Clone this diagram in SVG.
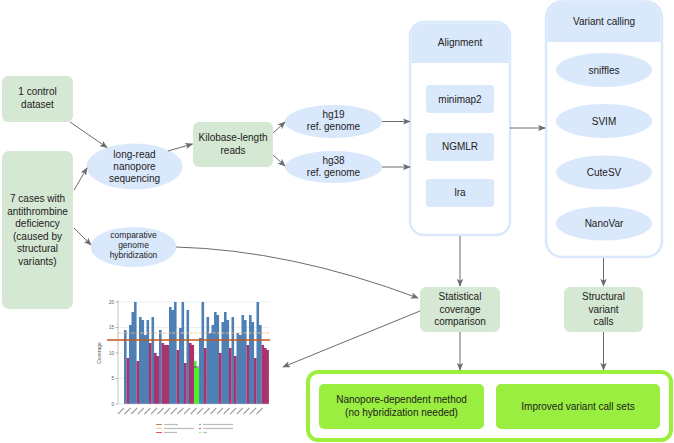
<svg xmlns="http://www.w3.org/2000/svg" width="674" height="443" viewBox="0 0 674 443">
<defs>
<style>
text{font-family:"Liberation Sans",Arial,sans-serif;fill:#222;font-size:10px;text-anchor:middle}
.g{fill:#d5e8d4}
.b{fill:#dae8fc}
.lg{fill:#99ee3f}
.c{stroke:#dae8fc;stroke-width:2.5;fill:#fff}
.e{fill:none;stroke:#6b6b6b;stroke-width:1;marker-end:url(#ah)}
.sm{font-size:8.5px}
.t{font-size:4.5px;fill:#555;text-anchor:end}
.grid{stroke:#e2e2e2;stroke-width:0.6}
.lgd{stroke:#bbb;stroke-width:1.2}
</style>
<marker id="ah" viewBox="0 0 10 8" refX="9" refY="4" markerWidth="8" markerHeight="6.4" markerUnits="userSpaceOnUse" orient="auto">
<path d="M0,0 L10,4 L0,8 L2.5,4 z" fill="#6b6b6b"/>
</marker>
</defs>

<g id="control">
<rect class="g" x="2" y="76" width="71" height="46" rx="6"/>
<text x="37.5" y="95">1 control</text>
<text x="37.5" y="108">dataset</text>
</g>

<g id="cases">
<rect class="g" x="2" y="151" width="71" height="158" rx="7"/>
<text x="37.5" y="202">7 cases with</text>
<text x="37.5" y="214.5">antithrombine</text>
<text x="37.5" y="227">deficiency</text>
<text x="37.5" y="239.5">(caused by</text>
<text x="37.5" y="252">structural</text>
<text x="37.5" y="264.5">variants)</text>
</g>

<g id="longread">
<ellipse class="b" cx="134.5" cy="166.5" rx="48" ry="23"/>
<text x="134.5" y="157.5">long-read</text>
<text x="134.5" y="170">nanopore</text>
<text x="134.5" y="182">sequencing</text>
</g>

<g id="cgh">
<ellipse class="b" cx="133.5" cy="247" rx="43" ry="20"/>
<text class="sm" x="133.5" y="238">comparative</text>
<text class="sm" x="133.5" y="248">genome</text>
<text class="sm" x="133.5" y="258">hybridization</text>
</g>

<g id="kilobase">
<rect class="g" x="193" y="122" width="80" height="45" rx="6"/>
<text x="233" y="141">Kilobase-length</text>
<text x="233" y="153.5">reads</text>
</g>

<g id="hg19">
<ellipse class="b" cx="333.5" cy="121.5" rx="48.5" ry="16.5"/>
<text x="333.5" y="117.5">hg19</text>
<text x="333.5" y="130">ref. genome</text>
</g>

<g id="hg38">
<ellipse class="b" cx="333.5" cy="167" rx="48.5" ry="16"/>
<text x="333.5" y="164">hg38</text>
<text x="333.5" y="176">ref. genome</text>
</g>

<g id="alignment">
<rect class="c" x="410" y="22" width="100" height="213" rx="14"/>
<path class="b" d="M411.2,63 V36 a12.8,12.8 0 0 1 12.8,-12.8 H496 a12.8,12.8 0 0 1 12.8,12.8 V63 z"/>
<text x="460" y="46">Alignment</text>
<rect class="b" x="426" y="85" width="68" height="28" rx="3"/>
<text x="460" y="102.5">minimap2</text>
<rect class="b" x="426" y="133" width="68" height="28" rx="3"/>
<text x="460" y="149.5">NGMLR</text>
<rect class="b" x="426" y="179" width="68" height="28" rx="3"/>
<text x="460" y="196">lra</text>
</g>

<g id="variantcalling">
<rect class="c" x="546" y="1.5" width="116" height="255.5" rx="16"/>
<path class="b" d="M547.2,42 V17.5 a14.8,14.8 0 0 1 14.8,-14.8 H646 a14.8,14.8 0 0 1 14.8,14.8 V42 z"/>
<text x="604" y="24.5">Variant calling</text>
<ellipse class="b" cx="604" cy="70" rx="48" ry="17"/>
<text x="604" y="73.5">sniffles</text>
<ellipse class="b" cx="604" cy="121" rx="48" ry="17"/>
<text x="604" y="124.5">SVIM</text>
<ellipse class="b" cx="604" cy="172.5" rx="48" ry="17"/>
<text x="604" y="176">CuteSV</text>
<ellipse class="b" cx="604" cy="223.5" rx="48" ry="17"/>
<text x="604" y="227">NanoVar</text>
</g>

<g id="statistical">
<rect class="g" x="420" y="287" width="80" height="45" rx="6"/>
<text x="460" y="299.5">Statistical</text>
<text x="460" y="312.5">coverage</text>
<text x="460" y="325">comparison</text>
</g>

<g id="structural">
<rect class="g" x="564" y="287" width="79" height="45" rx="6"/>
<text x="603.5" y="299.5">Structural</text>
<text x="603.5" y="312.5">variant</text>
<text x="603.5" y="325">calls</text>
</g>

<g id="outcomes">
<rect x="308" y="372" width="363" height="68" rx="10" fill="#fff" stroke="#9cf03c" stroke-width="4"/>
<rect class="lg" x="319" y="384" width="165" height="45" rx="5"/>
<text x="401.5" y="402.5">Nanopore-dependent method</text>
<text x="401.5" y="416">(no hybridization needed)</text>
<rect class="lg" x="496" y="384" width="164" height="45" rx="5"/>
<text x="578" y="409.5">Improved variant call sets</text>
</g>

<g id="coverage-chart">
<line class="grid" x1="118" y1="302" x2="270" y2="302"/>
<line class="grid" x1="118" y1="327.5" x2="270" y2="327.5"/>
<line class="grid" x1="118" y1="353" x2="270" y2="353"/>
<line class="grid" x1="118" y1="378.5" x2="270" y2="378.5"/>
<path fill="#4f80b5" d="M124,404V330h2.6V404zM129,404V325h2.6V404zM131.5,404V312h2.6V404zM134,404V302h2.6V404zM139,404V317h2.6V404zM141.5,404V320h2.6V404zM144,404V335h2.6V404zM146.5,404V320h2.6V404zM151.5,404V317h2.6V404zM159,404V330h2.6V404zM169,404V307h2.6V404zM171.5,404V310h2.6V404zM174,404V302h2.6V404zM179,404V328h2.6V404zM181.5,404V302h2.6V404zM186.5,404V310h2.6V404zM199,404V338h2.6V404zM201.5,404V302h2.6V404zM206.5,404V317h2.6V404zM209,404V333h2.6V404zM211.5,404V325h2.6V404zM214,404V312h2.6V404zM216.5,404V315h2.6V404zM221.5,404V322h2.6V404zM224,404V312h2.6V404zM226.5,404V320h2.6V404zM231.5,404V317h2.6V404zM236.5,404V333h2.6V404zM239,404V335h2.6V404zM241.5,404V315h2.6V404zM244,404V320h2.6V404zM249,404V315h2.6V404zM251.5,404V322h2.6V404zM256.5,404V302h2.6V404zM259,404V325h2.6V404z"/>
<path fill="#a8336f" d="M126.5,404V358h2.6V404zM136.5,404V361h2.6V404zM149,404V343h2.6V404zM154,404V353h2.6V404zM156.5,404V356h2.6V404zM161.5,404V343h2.6V404zM164,404V345h2.6V404zM166.5,404V345h2.6V404zM176.5,404V350h2.6V404zM184,404V363h2.6V404zM189,404V343h2.6V404zM191.5,404V345h2.6V404zM204,404V348h2.6V404zM219,404V353h2.6V404zM229,404V348h2.6V404zM234,404V356h2.6V404zM246.5,404V345h2.6V404zM254,404V358h2.6V404zM261.5,404V345h2.6V404zM264,404V348h2.6V404zM266.5,404V350h2.4V404z"/>
<path fill="#4ef030" d="M194,404V361h2.6V404zM196.5,404V368h2.6V404z"/>
<line x1="194" y1="367" x2="199" y2="367" stroke="#333" stroke-width="0.8"/>
<line x1="118" y1="333" x2="270" y2="333" stroke="#f3c28e" stroke-width="0.9" stroke-dasharray="3,1.5"/>
<line x1="107" y1="340" x2="270" y2="340" stroke="#c6561c" stroke-width="1.3"/>
<line x1="118" y1="300" x2="118" y2="404" stroke="#999" stroke-width="0.6"/>
<line x1="118" y1="404" x2="270" y2="404" stroke="#ccc" stroke-width="0.5"/>
<g stroke="#777" stroke-width="0.5">
<line x1="115.5" y1="302" x2="118" y2="302"/>
<line x1="115.5" y1="327.5" x2="118" y2="327.5"/>
<line x1="115.5" y1="353" x2="118" y2="353"/>
<line x1="115.5" y1="378.5" x2="118" y2="378.5"/>
<line x1="115.5" y1="404" x2="118" y2="404"/>
</g>
<text class="t" x="114" y="303.5">20</text>
<text class="t" x="114" y="329">15</text>
<text class="t" x="114" y="354.5">10</text>
<text class="t" x="114" y="380">5</text>
<text class="t" x="114" y="405.5">0</text>
<text x="0" y="0" transform="translate(100.5,353) rotate(-90)" style="font-size:5px;fill:#555">Coverage</text>
<g stroke="#a0a0a0" stroke-width="1.1">
<line x1="118" y1="414" x2="124" y2="408"/>
<line x1="124.6" y1="414" x2="130.6" y2="408"/>
<line x1="131.2" y1="414" x2="137.2" y2="408"/>
<line x1="137.8" y1="414" x2="143.8" y2="408"/>
<line x1="144.4" y1="414" x2="150.4" y2="408"/>
<line x1="151" y1="414" x2="157" y2="408"/>
<line x1="157.6" y1="414" x2="163.6" y2="408"/>
<line x1="164.2" y1="414" x2="170.2" y2="408"/>
<line x1="170.8" y1="414" x2="176.8" y2="408"/>
<line x1="177.4" y1="414" x2="183.4" y2="408"/>
<line x1="184" y1="414" x2="190" y2="408"/>
<line x1="190.6" y1="414" x2="196.6" y2="408"/>
<line x1="197.2" y1="414" x2="203.2" y2="408"/>
<line x1="203.8" y1="414" x2="209.8" y2="408"/>
<line x1="210.4" y1="414" x2="216.4" y2="408"/>
<line x1="217" y1="414" x2="223" y2="408"/>
<line x1="223.6" y1="414" x2="229.6" y2="408"/>
<line x1="230.2" y1="414" x2="236.2" y2="408"/>
<line x1="236.8" y1="414" x2="242.8" y2="408"/>
<line x1="243.4" y1="414" x2="249.4" y2="408"/>
<line x1="250" y1="414" x2="256" y2="408"/>
<line x1="256.6" y1="414" x2="262.6" y2="408"/>
</g>
<line x1="156" y1="424.5" x2="162" y2="424.5" stroke="#b5602a" stroke-width="0.8"/>
<line x1="156" y1="428.5" x2="162" y2="428.5" stroke="#f0c080" stroke-width="0.8"/>
<line x1="156" y1="432.5" x2="162" y2="432.5" stroke="#e02828" stroke-width="0.8"/>
<line class="lgd" x1="164" y1="424.5" x2="178" y2="424.5"/>
<line class="lgd" x1="164" y1="428.5" x2="194" y2="428.5"/>
<line class="lgd" x1="164" y1="432.5" x2="177" y2="432.5"/>
<circle cx="200" cy="424.5" r="0.8" fill="#3f8fb8"/>
<circle cx="200" cy="428.5" r="0.8" fill="#a8336f"/>
<circle cx="200" cy="432.5" r="0.8" fill="#4ef030"/>
<line class="lgd" x1="203" y1="424.5" x2="233" y2="424.5"/>
<line class="lgd" x1="203" y1="428.5" x2="233" y2="428.5"/>
<line class="lgd" x1="203" y1="432.5" x2="207" y2="432.5"/>
</g>

<g id="connectors">
<line class="e" x1="70" y1="122" x2="107" y2="147.5"/>
<line class="e" x1="74" y1="190" x2="87" y2="168"/>
<line class="e" x1="74" y1="228" x2="91" y2="245"/>
<line class="e" x1="168" y1="151" x2="192.5" y2="144"/>
<line class="e" x1="273" y1="133" x2="285" y2="122"/>
<line class="e" x1="273" y1="155" x2="285" y2="166"/>
<line class="e" x1="382" y1="121.5" x2="410" y2="121.5"/>
<line class="e" x1="382" y1="167" x2="410" y2="167"/>
<line class="e" x1="510" y1="128" x2="545" y2="128"/>
<line class="e" x1="460" y1="236" x2="460" y2="286"/>
<line class="e" x1="603.5" y1="258" x2="603.5" y2="286"/>
<line class="e" x1="460" y1="332" x2="460" y2="370"/>
<line class="e" x1="603.5" y1="332" x2="603.5" y2="370"/>
<path class="e" d="M176,247 Q290,250 418,298"/>
<line class="e" x1="420" y1="311" x2="283" y2="367"/>
</g>
</svg>
